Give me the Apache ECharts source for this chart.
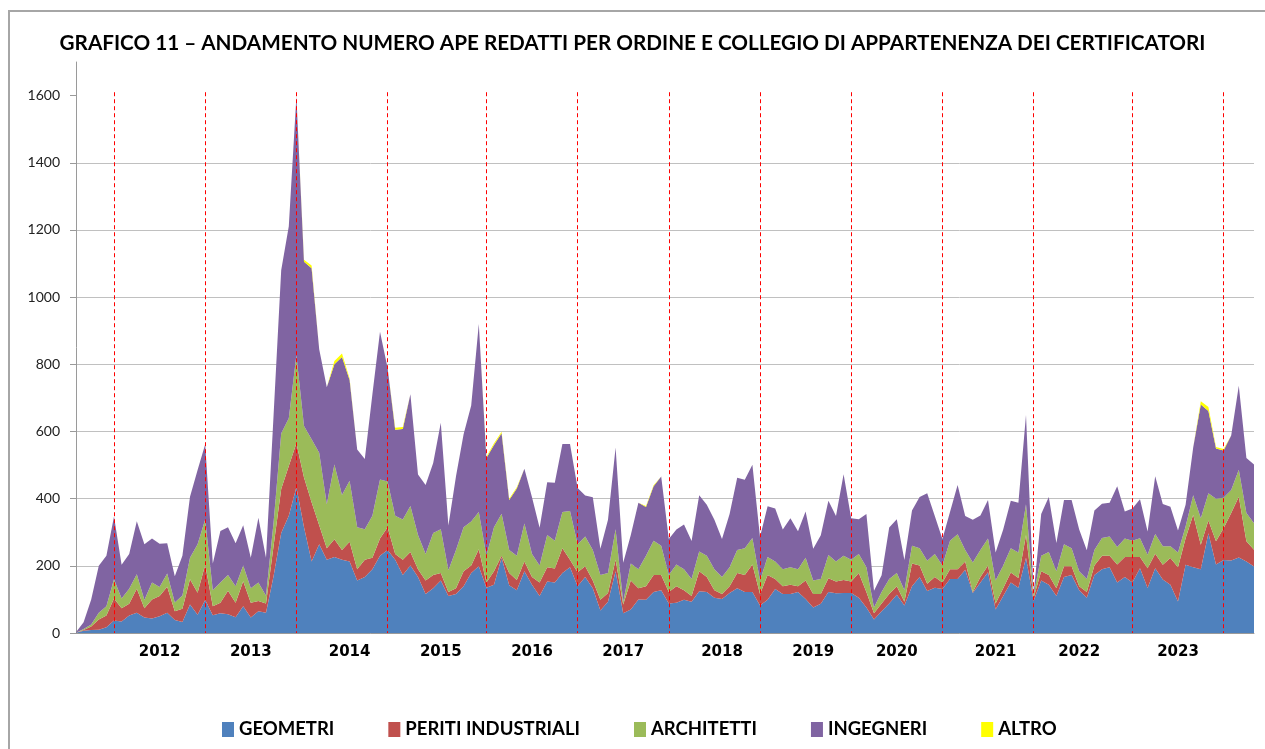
<!DOCTYPE html>
<html>
<head>
<meta charset="utf-8">
<script src="https://cdn.jsdelivr.net/npm/echarts@6/dist/echarts.min.js"></script>
<style>
  html, body { margin: 0; padding: 0; background: #fff; }
  #chart { width: 1265px; height: 749px; }
</style>
</head>
<body>
<div id="chart"></div>
<script>
// Mesi da luglio 2011 a giugno 2024 (156 valori)
const categories = [];
for (let k = 0; k < 156; k++) {
  const m = (6 + k) % 12 + 1;
  const y = 2011 + Math.floor((6 + k) / 12);
  categories.push(y + '-' + (m < 10 ? '0' : '') + m);
}

// Etichette degli anni e indice del mese su cui sono centrate
const yearLabels = ['2012', '2013', '2014', '2015', '2016', '2017', '2018', '2019', '2020', '2021', '2022', '2023'];
const yearIdx = [11, 23, 36, 48, 60, 72, 85, 97, 108, 121, 132, 145];

// Linee rosse tratteggiate (indice del mese)
const dashIdx = [5, 17, 29, 41, 54, 66, 78, 90, 102, 114, 126, 139, 151];

// Tacche asse Y
const yTicks = [0, 200, 400, 600, 800, 1000, 1200, 1400, 1600];

const geometri = [1, 7, 9, 10, 17, 37, 34, 52, 60, 46, 43, 50, 60, 39, 33, 85, 54, 98, 53, 59,
  56, 47, 80, 46, 65, 60, 170, 298, 349, 434, 315, 213, 264, 218, 226, 218, 213, 156, 167, 190,
  230, 247, 218, 173, 201, 167, 116, 133, 156, 110, 116, 139, 179, 199, 135, 144, 224, 142, 127, 184,
  144, 110, 153, 150, 179, 196, 139, 167, 133, 67, 93, 184, 59, 70, 100, 99, 122, 127, 88, 90,
  99, 93, 124, 122, 105, 101, 119, 133, 122, 122, 82, 99, 131, 116, 116, 122, 101, 76, 87, 122,
  118, 119, 119, 105, 76, 40, 65, 88, 114, 82, 139, 167, 125, 135, 131, 161, 161, 188, 119, 150,
  181, 70, 110, 150, 135, 224, 95, 156, 144, 110, 167, 173, 127, 105, 173, 190, 196, 150, 167, 150,
  193, 134, 193, 159, 144, 94, 203, 196, 190, 297, 204, 217, 216, 225, 213, 198];

const periti = [0, 2, 10, 30, 35, 66, 40, 35, 72, 28, 57, 60, 78, 26, 39, 75, 66, 105, 27, 31,
  70, 43, 74, 44, 30, 28, 90, 131, 148, 131, 148, 176, 57, 34, 53, 29, 59, 34, 51, 34,
  51, 68, 17, 45, 40, 23, 40, 40, 23, 12, 17, 45, 22, 50, 15, 40, 6, 37, 31, 29,
  23, 40, 43, 42, 73, 22, 42, 32, 23, 32, 26, 34, 26, 86, 33, 40, 51, 46, 34, 49,
  28, 17, 60, 45, 22, 15, 20, 46, 51, 82, 34, 74, 30, 23, 28, 17, 55, 40, 29, 41,
  35, 39, 34, 74, 46, 19, 23, 28, 25, 11, 68, 34, 22, 32, 19, 29, 29, 25, 3, 17,
  20, 18, 23, 30, 29, 68, 10, 28, 29, 23, 32, 26, 12, 17, 28, 40, 34, 54, 59, 76,
  33, 59, 43, 44, 79, 102, 79, 156, 73, 38, 69, 95, 141, 181, 60, 50];

const architetti = [0, 3, 6, 20, 28, 57, 29, 45, 43, 24, 50, 27, 39, 26, 40, 64, 144, 135, 47, 60,
  47, 49, 47, 43, 55, 23, 70, 165, 142, 262, 153, 188, 216, 131, 223, 164, 181, 125, 91, 125,
  176, 136, 114, 120, 137, 102, 79, 125, 130, 65, 114, 131, 131, 111, 80, 131, 125, 68, 72, 113,
  68, 51, 96, 83, 108, 145, 83, 88, 91, 74, 60, 91, 7, 51, 57, 91, 102, 87, 51, 65,
  63, 51, 59, 63, 63, 51, 57, 68, 79, 79, 40, 53, 52, 51, 52, 51, 68, 40, 45, 69,
  60, 72, 65, 56, 74, 17, 34, 45, 40, 34, 53, 51, 68, 68, 51, 85, 104, 34, 88, 80,
  80, 68, 68, 72, 76, 91, 7, 46, 68, 51, 65, 53, 45, 39, 46, 53, 57, 52, 55, 49,
  56, 40, 59, 55, 35, 44, 35, 58, 79, 81, 127, 91, 69, 80, 84, 79];

const ingegneri = [1, 20, 75, 140, 150, 187, 100, 103, 158, 166, 131, 129, 90, 78, 118, 182, 221, 224, 80, 154,
  142, 128, 120, 91, 193, 113, 320, 486, 572, 770, 489, 509, 308, 349, 298, 411, 300, 231, 209, 362,
  440, 338, 256, 269, 333, 180, 206, 208, 317, 133, 220, 277, 345, 560, 291, 245, 240, 149, 200, 163,
  169, 112, 157, 172, 203, 200, 168, 122, 157, 78, 158, 243, 117, 85, 198, 145, 162, 206, 107, 104,
  133, 113, 167, 152, 147, 113, 158, 215, 204, 218, 130, 151, 158, 118, 146, 113, 138, 95, 130, 162,
  135, 243, 124, 104, 158, 50, 50, 153, 160, 90, 105, 153, 201, 113, 79, 85, 147, 101, 127, 103,
  115, 84, 107, 142, 148, 266, 3, 124, 164, 84, 132, 144, 124, 85, 118, 102, 101, 181, 81, 96,
  116, 69, 172, 126, 118, 65, 65, 142, 338, 245, 149, 140, 162, 250, 164, 175];

const altro = [0, 0, 0, 0, 0, 0, 0, 0, 0, 0, 0, 0, 0, 0, 0, 0, 0, 0, 0, 0,
  0, 0, 0, 0, 0, 0, 0, 0, 0, 0, 6, 8, 0, 0, 10, 10, 5, 0, 0, 0,
  0, 0, 6, 6, 0, 0, 0, 0, 0, 0, 0, 0, 0, 0, 4, 5, 4, 4, 4, 0,
  0, 0, 0, 0, 0, 0, 0, 0, 0, 0, 0, 0, 0, 0, 0, 3, 3, 0, 0, 0,
  0, 0, 0, 0, 0, 0, 0, 0, 0, 0, 0, 0, 0, 0, 0, 0, 0, 0, 0, 0,
  0, 0, 0, 0, 0, 0, 0, 0, 0, 0, 0, 0, 0, 0, 0, 0, 0, 0, 0, 0,
  0, 0, 0, 0, 0, 0, 0, 0, 0, 0, 0, 0, 0, 0, 0, 0, 0, 0, 0, 0,
  0, 0, 0, 0, 0, 0, 0, 0, 10, 12, 5, 5, 0, 0, 0, 0];

const seriesNames = ['GEOMETRI', 'PERITI INDUSTRIALI', 'ARCHITETTI', 'INGEGNERI', 'ALTRO'];
const seriesData = [geometri, periti, architetti, ingegneri, altro];

const chart = echarts.init(document.getElementById('chart'));

const areaSeries = seriesNames.map((name, i) => ({
  name: name,
  type: 'line',
  stack: 'totale',
  data: seriesData[i],
  symbol: 'none',
  showSymbol: false,
  lineStyle: { width: 0 },
  areaStyle: { opacity: 1 },
  emphasis: { disabled: true }
}));

// serie di appoggio solo per le linee tratteggiate
areaSeries.push({
  name: 'separatori',
  type: 'line',
  data: [],
  z: 5,
  silent: true,
  markLine: {
    silent: true,
    symbol: ['none', 'none'],
    label: { show: false },
    lineStyle: { color: '#ff0000', type: [4, 3], width: 1 },
    data: dashIdx.map(i => [{ coord: [categories[i], 1610] }, { coord: [categories[i], 0] }])
  }
});

const option = {
  animation: false,
  backgroundColor: '#ffffff',
  color: ['#4f81bd', '#c0504d', '#9bbb59', '#8064a2', '#ffff00'],
  title: {
    text: 'GRAFICO 11 \u2013 ANDAMENTO NUMERO APE REDATTI PER ORDINE E COLLEGIO DI APPARTENENZA DEI CERTIFICATORI',
    left: 'center',
    top: 28,
    textStyle: { fontFamily: 'Lato', fontWeight: 'bold', fontSize: 20.7, color: '#000' }
  },
  graphic: [{
    type: 'rect',
    silent: true,
    z: -10,
    shape: { x: 9, y: 11, width: 1300, height: 800 },
    style: { fill: 'none', stroke: '#a6a6a6', lineWidth: 2 }
  }],
  legend: {
    data: seriesNames,
    left: 217,
    top: 715,
    icon: 'rect',
    itemWidth: 12,
    itemHeight: 15,
    itemGap: 54,
    textStyle: { fontFamily: 'Lato', fontWeight: 'bold', fontSize: 18.5, color: '#000' }
  },
  grid: { left: 76, right: 11, top: 62, bottom: 116, outerBoundsMode: 'none' },
  xAxis: {
    type: 'category',
    boundaryGap: false,
    data: categories,
    axisLine: { lineStyle: { color: '#9a9a9a' } },
    axisTick: { show: false },
    axisLabel: {
      interval: (i) => yearIdx.indexOf(i) >= 0,
      formatter: (v, i) => yearLabels[yearIdx.indexOf(i)] || '',
      margin: 12,
      fontFamily: 'DejaVu Sans',
      fontWeight: 'bold',
      fontSize: 15,
      color: '#000'
    },
    splitLine: { show: false }
  },
  yAxis: {
    type: 'value',
    min: 0,
    max: 1700,
    interval: 200,
    axisLine: { show: true, lineStyle: { color: '#9a9a9a' } },
    axisTick: { show: true, length: 6, lineStyle: { color: '#9a9a9a' }, customValues: yTicks },
    axisLabel: {
      customValues: yTicks,
      formatter: (v) => String(v),
      margin: 16,
      fontFamily: 'Lato',
      fontSize: 14,
      color: '#222'
    },
    splitLine: { lineStyle: { color: '#c0c0c0' }, showMaxLine: false }
  },
  series: areaSeries
};

chart.setOption(option);
</script>
</body>
</html>
